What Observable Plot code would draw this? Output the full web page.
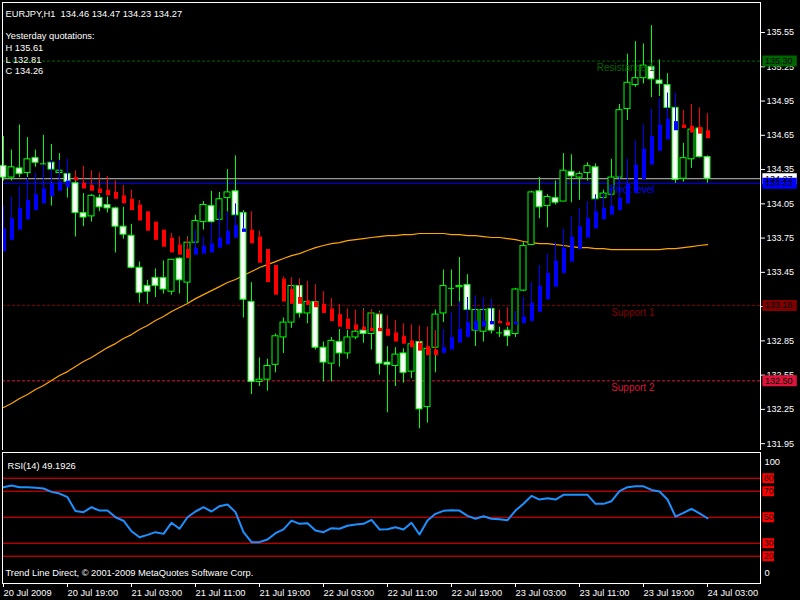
<!DOCTYPE html>
<html><head><meta charset="utf-8">
<script src="https://cdn.jsdelivr.net/npm/d3@7"></script>
<script src="https://cdn.jsdelivr.net/npm/@observablehq/plot@0.6"></script>
<style>
html,body{margin:0;padding:0;background:#000;}
#chart{position:relative;width:800px;height:600px;background:#000;overflow:hidden;}
#chart svg{position:absolute;left:0;}
#chart svg text{white-space:pre;}
</style></head><body><div id="chart"></div>
<script>
// ---- data ----
const symbol = "EURJPY";
const period = "H1";
const openP = [134.38,134.28,134.36,134.32,134.45,134.40,134.41,134.32,134.31,134.23,
 133.97,133.94,134.10,134.04,134.01,133.85,133.77,133.49,133.33,133.40,
 133.40,133.28,133.57,133.36,133.71,133.89,134.03,133.91,134.10,134.16,
 133.97,133.19,132.49,132.51,132.64,132.88,133.01,133.33,133.09,133.19,
 132.79,132.65,132.84,132.74,132.88,132.94,132.91,133.08,132.66,132.63,
 132.74,132.58,132.84,132.27,132.79,133.09,133.31,133.32,133.34,132.94,
 132.93,133.13,132.92,132.94,132.91,133.29,133.69,134.16,134.03,134.10,
 134.07,134.33,134.28,134.32,134.37,134.10,134.13,134.28,134.88,135.09,
 135.15,135.25,135.13,135.09,134.89,134.27,134.44,134.71,134.46];
const highP = [134.64,134.52,134.74,134.63,134.52,134.65,134.57,134.49,134.32,134.25,
 134.14,134.13,134.13,134.11,134.02,134.02,133.87,133.54,133.38,133.48,
 133.55,133.56,133.58,133.76,133.95,134.07,134.16,134.15,134.35,134.47,
 133.99,133.36,132.70,132.69,132.91,133.05,133.40,133.39,133.37,133.34,
 132.84,132.88,132.95,132.94,132.95,133.13,133.12,133.11,132.80,132.79,
 132.78,132.83,132.85,132.79,133.12,133.47,133.47,133.58,133.43,133.24,
 133.23,133.21,132.97,132.97,133.31,133.71,134.16,134.28,134.13,134.25,
 134.49,134.48,134.33,134.41,134.40,134.17,134.44,134.92,135.36,135.47,
 135.45,135.61,135.31,135.19,134.90,134.58,134.71,134.85,134.47];
const lowP = [134.25,134.25,134.28,134.28,134.37,134.36,134.03,134.28,134.10,133.76,
 133.85,133.89,133.98,133.97,133.62,133.74,133.48,133.18,133.17,133.23,
 133.26,133.25,133.26,133.18,133.64,133.82,133.88,133.88,133.97,133.75,
 133.05,132.38,132.45,132.41,132.57,132.74,132.96,133.05,133.00,132.77,
 132.49,132.49,132.62,132.69,132.86,132.83,132.77,132.55,132.22,132.45,
 132.48,132.52,132.08,132.13,132.57,133.01,133.15,133.14,133.11,132.80,
 132.84,132.91,132.88,132.80,132.88,133.28,133.69,133.92,133.84,134.04,
 134.07,134.06,134.08,134.25,134.08,134.09,134.13,134.25,134.78,135.07,
 135.10,134.98,134.99,134.82,134.23,134.24,134.36,134.45,134.23];
const closeP = [134.28,134.37,134.31,134.44,134.41,134.40,134.35,134.34,134.24,133.97,
 133.93,134.12,134.02,134.01,133.85,133.78,133.49,133.27,133.28,133.33,
 133.30,133.56,133.38,133.71,133.90,134.04,133.89,134.09,134.15,133.95,
 133.21,132.49,132.51,132.63,132.89,133.01,133.33,133.09,133.19,132.79,
 132.66,132.85,132.74,132.88,132.93,132.91,133.09,132.65,132.64,132.73,
 132.57,132.82,132.25,132.78,133.08,133.33,133.31,133.33,133.12,133.12,
 133.12,132.94,132.92,132.89,133.30,133.68,134.15,134.02,134.11,134.06,
 134.34,134.29,134.31,134.38,134.09,134.14,134.28,134.87,135.11,135.15,
 135.26,135.14,135.10,134.89,134.26,134.45,134.70,134.46,134.27];
// trend bars indicator (open, close, high)
const trendOpen = [133.63,133.73,133.82,133.91,133.99,134.05,134.11,134.16,134.19,134.28,
 134.23,134.21,134.18,134.17,134.15,134.12,134.09,134.04,133.98,133.89,
 133.82,133.75,133.69,133.65,133.60,133.61,133.62,133.66,133.69,133.75,
 133.80,133.82,133.76,133.65,133.51,133.39,133.30,133.23,133.20,133.19,
 133.17,133.13,133.08,133.04,132.99,132.97,132.96,132.96,132.95,132.92,
 132.89,132.85,132.83,132.80,132.77,132.74,132.77,132.83,132.88,132.94,
 132.97,132.99,133.02,133.01,132.99,133.00,133.02,133.10,133.21,133.32,
 133.44,133.54,133.65,133.75,133.83,133.91,133.95,133.99,134.05,134.14,
 134.26,134.39,134.51,134.61,134.69,134.74,134.73,134.72,134.69];
const trendClose = [133.83,133.92,134.01,134.08,134.13,134.18,134.23,134.24,134.25,134.25,
 134.18,134.16,134.14,134.12,134.09,134.05,133.99,133.90,133.81,133.73,
 133.67,133.62,133.60,133.57,133.66,133.68,133.70,133.75,133.81,133.86,
 133.83,133.70,133.53,133.36,133.25,133.19,133.17,133.17,133.16,133.14,
 133.09,133.02,132.97,132.95,132.94,132.94,132.93,132.93,132.89,132.84,
 132.82,132.79,132.76,132.72,132.72,132.79,132.88,132.95,133.01,133.02,
 133.02,133.02,133.00,132.98,133.01,133.06,133.18,133.33,133.44,133.55,
 133.66,133.76,133.85,133.92,133.98,134.01,134.03,134.10,134.22,134.39,
 134.53,134.64,134.74,134.79,134.77,134.71,134.67,134.66,134.62];
const trendHigh = [134.03,134.11,134.20,134.28,134.32,134.39,134.43,134.43,134.44,134.34,
 134.38,134.34,134.32,134.29,134.25,134.21,134.17,134.08,133.98,133.89,
 133.82,133.79,133.76,133.75,133.82,133.76,133.88,133.99,133.98,134.05,
 133.97,133.98,133.81,133.65,133.51,133.41,133.40,133.39,133.37,133.34,
 133.28,133.22,133.17,133.13,133.12,133.12,133.12,133.10,133.07,133.03,
 133.00,132.99,132.98,132.97,132.94,132.95,133.10,133.19,133.23,133.24,
 133.23,133.21,133.12,133.14,133.11,133.23,133.36,133.51,133.61,133.71,
 133.83,133.94,134.01,134.07,134.13,134.14,134.19,134.30,134.44,134.60,
 134.74,134.88,134.97,135.02,135.02,134.87,134.92,134.89,134.84];
const maValues = [132.266,132.301,132.345,132.380,132.424,132.459,132.502,132.546,132.581,132.625,
 132.669,132.704,132.748,132.791,132.826,132.870,132.905,132.949,132.984,133.028,
 133.063,133.107,133.142,133.177,133.220,133.255,133.290,133.325,133.361,133.387,
 133.422,133.457,133.492,133.518,133.544,133.571,133.597,133.614,133.641,133.667,
 133.685,133.702,133.711,133.728,133.737,133.746,133.755,133.763,133.772,133.772,
 133.781,133.781,133.790,133.790,133.790,133.790,133.781,133.781,133.772,133.772,
 133.763,133.755,133.755,133.746,133.737,133.720,133.711,133.702,133.702,133.693,
 133.685,133.676,133.667,133.667,133.658,133.658,133.649,133.649,133.649,133.649,
 133.649,133.649,133.649,133.658,133.658,133.667,133.676,133.685,133.693];
const rsiValues = [73.1,74.4,73.1,73.1,72.6,72.1,69.5,68.2,65.4,54.7,
 53.9,57.7,55.1,55.1,50.0,47.3,39.2,34.6,36.4,38.5,
 37.2,45.7,41.1,50.0,54.4,57.7,54.4,58.5,59.8,53.9,
 38.5,30.8,30.8,32.9,37.7,40.6,47.4,44.9,45.4,39.7,
 38.5,41.6,41.1,43.4,44.4,44.9,48.0,40.6,40.7,42.3,
 40.6,45.7,36.7,47.4,52.6,54.9,55.4,55.1,51.0,48.8,
 50.8,48.8,48.4,47.7,55.1,60.3,66.4,63.6,64.6,63.6,
 67.2,67.2,67.2,67.2,60.3,60.3,62.3,70.0,73.1,73.8,
 73.8,71.0,69.8,63.6,50.5,53.4,56.5,53.0,49.19];
const rsiCurrent = 49.1926;
const timeLabels = ["20 Jul 2009","20 Jul 19:00","21 Jul 03:00","21 Jul 11:00","21 Jul 19:00","22 Jul 03:00",
 "22 Jul 11:00","22 Jul 19:00","23 Jul 03:00","23 Jul 11:00","23 Jul 19:00","24 Jul 03:00"];
const barsPerLabel = 8;
const levelNames = ["Resistance 1","Pivot level","Support 1","Support 2"];
const levelValues = [135.30,134.23,133.16,132.50];
const levelColors = ["#006400","#0000ff","#800000","#dc143c"];
const bidPrice = 134.27;
const yesterdayNames = ["H","L","C"];
const yesterdayValues = [135.61,132.81,134.26];
const priceTicks = [131.95,132.25,132.55,132.85,133.15,133.45,133.75,134.05,134.35,134.65,134.95,135.25,135.55];
const rsiLevels = [80,70,50,30,20];
const rsiScaleLabels = ["100","0"];
const copyright = "Trend Line Direct, \u00a9 2001-2009 MetaQuotes Software Corp.";

// ---- build ----
const bars = openP.map((o,i)=>({i, o, h:highP[i], l:lowP[i], c:closeP[i],
  to:trendOpen[i], tc:trendClose[i], th:trendHigh[i], ma:maValues[i], rsi:rsiValues[i]}));
const levels = levelNames.map((name,k)=>({name, value:levelValues[k], color:levelColors[k]}));
const boxes = [levels[0], {name:"bid", value:bidPrice, color:"#ffffff"}, levels[1], levels[2], levels[3]];
const xDomain = [-0.125, 94.625];
const xMax = xDomain[1];
const labelBar = 81;
const font = "'Liberation Sans', Arial, sans-serif";
const last = bars[bars.length-1];
const header = `${symbol},${period}  ${last.o.toFixed(2)} ${last.h.toFixed(2)} ${last.l.toFixed(2)} ${last.c.toFixed(2)}`;
const yText = "Yesterday quotations:\n" + yesterdayNames.map((n,k)=>`${n} ${yesterdayValues[k].toFixed(2)}`).join("\n");
const upColor = "#0000ff", downColor = "#ff0000", candleLine = "#00ff00";

const main = Plot.plot({
  width: 800, height: 452,
  marginTop: 2, marginBottom: 2, marginLeft: 2, marginRight: 40,
  style: {background: "#000", color: "#fff", fontFamily: font, fontSize: "9px", overflow: "visible"},
  color: {type: "identity"},
  x: {domain: xDomain, axis: null},
  y: {domain: [131.890, 135.813], label: null},
  marks: [
    Plot.ruleY(levels.filter(d=>d.name!=="Pivot level"), {y:"value", stroke:"color", strokeDasharray:"3,2"}),
    Plot.ruleY([bidPrice], {stroke:"#c0c0c0"}),
    Plot.ruleY(levels.filter(d=>d.name==="Pivot level"), {y:"value", stroke:"color"}),
    Plot.line(bars, {x:"i", y:"ma", stroke:"#ffa500", strokeWidth:1.2}),
    Plot.ruleX(bars, {x:"i", y1:"l", y2:"h", stroke:candleLine}),
    Plot.rect(bars.filter(d=>d.o!==d.c), {x1:d=>d.i-0.375, x2:d=>d.i+0.375, y1:"o", y2:"c",
      fill:d=>d.c<d.o?"#ffffff":"#000000", stroke:candleLine}),
    Plot.ruleY(bars.filter(d=>d.o===d.c), {y:"o", x1:d=>d.i-0.375, x2:d=>d.i+0.375, stroke:candleLine}),
    Plot.ruleX(bars, {x:"i", y1:d=>Math.max(d.to,d.tc), y2:"th", stroke:d=>d.tc>=d.to?upColor:downColor}),
    Plot.ruleX(bars, {x:"i", y1:"to", y2:"tc", stroke:d=>d.tc>=d.to?upColor:downColor, strokeWidth:4, dx:0.5}),
    Plot.text(levels, {x:()=>labelBar, y:"value", text:"name", fill:"color", textAnchor:"end", dx:3, dy:7, fontSize:10}),
    Plot.frame({stroke:"#fff"}),
    Plot.axisY(priceTicks, {anchor:"right", tickSize:4, tickPadding:2, tickFormat:d=>d.toFixed(2), label:null, fontSize:9}),
    Plot.ruleY(boxes, {y:"value", x1:()=>xMax+0.3, x2:()=>xMax+4.6, stroke:"color", strokeWidth:11}),
    Plot.text(boxes, {y:"value", x:()=>xMax+0.3, text:d=>d.value.toFixed(2), textAnchor:"start", dx:2, fill:"#000", fontSize:9}),
    Plot.text([header], {frameAnchor:"top-left", dx:3, dy:8, textAnchor:"start", fill:"#fff", fontSize:9.3}),
    Plot.text([yText], {frameAnchor:"top-left", dx:3, dy:28, lineAnchor:"top", lineHeight:1.27, textAnchor:"start", fill:"#fff", fontSize:9.3})
  ]
});
main.style.top = "0px";

const rsiPlot = Plot.plot({
  width: 800, height: 150,
  marginTop: 2, marginBottom: 17, marginLeft: 2, marginRight: 40,
  style: {background: "#000", color: "#fff", fontFamily: font, fontSize: "9px", overflow: "visible"},
  color: {type: "identity"},
  x: {domain: xDomain, label: null},
  y: {domain: [-1.0, 99.8], label: null, axis: null},
  marks: [
    Plot.ruleY(rsiLevels, {stroke:"#ff0000"}),
    Plot.line(bars, {x:"i", y:"rsi", stroke:"#1e90ff", strokeWidth:2}),
    Plot.frame({stroke:"#fff"}),
    Plot.axisX(timeLabels.map((_,k)=>k*barsPerLabel), {anchor:"bottom", tickSize:4, tickPadding:2, textAnchor:"start",
      tickFormat:d=>timeLabels[d/barsPerLabel], label:null, fontSize:9.3}),
    Plot.ruleY(rsiLevels, {x1:()=>xMax+0.3, x2:()=>xMax+1.75, stroke:"#ff0000", strokeWidth:10}),
    Plot.text(rsiLevels, {x:()=>xMax+0.3, y:d=>d, text:d=>String(d), textAnchor:"start", dx:1, fill:"#000", fontSize:8.5}),
    Plot.text([rsiScaleLabels[0]], {frameAnchor:"top-right", dx:4, dy:6, textAnchor:"start", fill:"#fff", fontSize:9.3}),
    Plot.text([rsiScaleLabels[1]], {frameAnchor:"bottom-right", dx:4, dy:-8, textAnchor:"start", fill:"#fff", fontSize:9.3}),
    Plot.text([`RSI(14) ${rsiCurrent}`], {frameAnchor:"top-left", dx:5, dy:10, textAnchor:"start", fill:"#fff", fontSize:9.3}),
    Plot.text([copyright], {frameAnchor:"bottom-left", dx:3, dy:-8, textAnchor:"start", fill:"#fff", fontSize:9.3})
  ]
});
rsiPlot.style.top = "450px";

const root = document.getElementById("chart");
root.appendChild(main);
root.appendChild(rsiPlot);
</script></body></html>
